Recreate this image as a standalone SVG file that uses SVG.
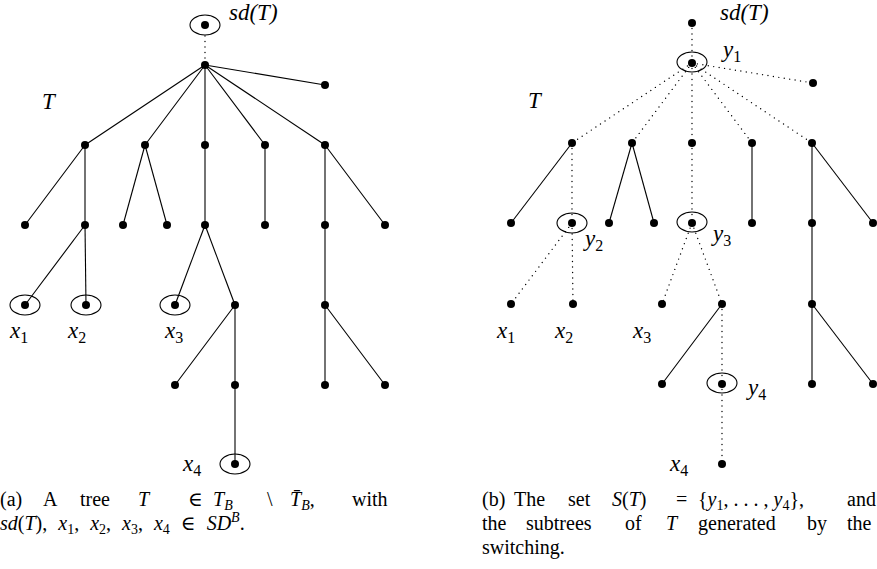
<svg xmlns="http://www.w3.org/2000/svg" width="877" height="569" viewBox="0 0 877 569">
<style>
.e{stroke:#000;stroke-width:1.1;fill:none}
.d{stroke:#000;stroke-width:1.4;fill:none;stroke-dasharray:0 5.5;stroke-linecap:round}
.n{fill:#000}
.o{fill:none;stroke:#000;stroke-width:1.1}
.m{font-family:"Liberation Serif","DejaVu Serif",serif;font-style:italic;font-size:23px;fill:#000}
.s{font-size:16px;font-style:normal}
.c{font-family:"Liberation Serif","DejaVu Serif",serif;font-size:20px;fill:#000}
.ci{font-style:italic}
.cs{font-size:14px}
</style>
<rect width="877" height="569" fill="#fff"/>
<g id="connectors">
<!-- left tree -->
<line class="d" x1="205" y1="36" x2="205" y2="65"/>
<line class="e" x1="205" y1="65" x2="325" y2="85"/>
<line class="e" x1="205" y1="65" x2="85" y2="145"/>
<line class="e" x1="205" y1="65" x2="145" y2="145"/>
<line class="e" x1="205" y1="65" x2="205" y2="145"/>
<line class="e" x1="205" y1="65" x2="265" y2="145"/>
<line class="e" x1="205" y1="65" x2="325" y2="145"/>
<line class="e" x1="85" y1="145" x2="25" y2="225"/>
<line class="e" x1="85" y1="145" x2="85" y2="225"/>
<line class="e" x1="145" y1="145" x2="123" y2="225"/>
<line class="e" x1="145" y1="145" x2="167" y2="225"/>
<line class="e" x1="205" y1="145" x2="205" y2="225"/>
<line class="e" x1="265" y1="145" x2="265" y2="225"/>
<line class="e" x1="325" y1="145" x2="325" y2="225"/>
<line class="e" x1="325" y1="145" x2="385" y2="225"/>
<line class="e" x1="85" y1="225" x2="25" y2="305"/>
<line class="e" x1="85" y1="225" x2="86" y2="305"/>
<line class="e" x1="205" y1="225" x2="175" y2="305"/>
<line class="e" x1="205" y1="225" x2="235" y2="305"/>
<line class="e" x1="325" y1="225" x2="325" y2="305"/>
<line class="e" x1="235" y1="305" x2="175" y2="385"/>
<line class="e" x1="235" y1="305" x2="235" y2="385"/>
<line class="e" x1="325" y1="305" x2="325" y2="385"/>
<line class="e" x1="325" y1="305" x2="385" y2="385"/>
<line class="e" x1="235" y1="385" x2="235" y2="464"/>
<!-- right tree -->
<line class="d" x1="692" y1="23" x2="692" y2="63"/>
<line class="d" x1="692" y1="63" x2="813" y2="83"/>
<line class="d" x1="692" y1="63" x2="572" y2="143"/>
<line class="d" x1="692" y1="63" x2="632" y2="143"/>
<line class="d" x1="692" y1="63" x2="692" y2="143"/>
<line class="d" x1="692" y1="63" x2="752" y2="143"/>
<line class="d" x1="692" y1="63" x2="812" y2="143"/>
<line class="e" x1="572" y1="143" x2="511" y2="223"/>
<line class="d" x1="572" y1="143" x2="572" y2="223"/>
<line class="e" x1="632" y1="143" x2="609" y2="223"/>
<line class="e" x1="632" y1="143" x2="654" y2="223"/>
<line class="d" x1="692" y1="143" x2="692" y2="223"/>
<line class="e" x1="752" y1="143" x2="752" y2="223"/>
<line class="e" x1="812" y1="143" x2="812" y2="223"/>
<line class="e" x1="812" y1="143" x2="873" y2="223"/>
<line class="d" x1="572" y1="223" x2="511" y2="304"/>
<line class="d" x1="572" y1="223" x2="573" y2="304"/>
<line class="d" x1="692" y1="223" x2="662" y2="304"/>
<line class="d" x1="692" y1="223" x2="722" y2="304"/>
<line class="e" x1="812" y1="223" x2="812" y2="304"/>
<line class="e" x1="722" y1="304" x2="662" y2="384"/>
<line class="d" x1="722" y1="304" x2="722" y2="384"/>
<line class="e" x1="812" y1="304" x2="812" y2="384"/>
<line class="e" x1="812" y1="304" x2="873" y2="384"/>
<line class="d" x1="722" y1="384" x2="722" y2="464"/>
</g>
<!-- left tree nodes -->
<g id="L-sd"><ellipse class="o" cx="205" cy="25" rx="15" ry="10"/><circle class="n" cx="205" cy="25" r="4"/><text class="m" x="229" y="20">sd(T)</text></g>
<g id="L-root"><circle class="n" cx="205" cy="65" r="4"/></g>
<g id="L-r"><circle class="n" cx="325" cy="85" r="4"/></g>
<g id="L-a1"><circle class="n" cx="85" cy="145" r="4"/></g>
<g id="L-a2"><circle class="n" cx="145" cy="145" r="4"/></g>
<g id="L-a3"><circle class="n" cx="205" cy="145" r="4"/></g>
<g id="L-a4"><circle class="n" cx="265" cy="145" r="4"/></g>
<g id="L-a5"><circle class="n" cx="325" cy="145" r="4"/></g>
<g id="L-b1"><circle class="n" cx="25" cy="225" r="4"/></g>
<g id="L-b2"><circle class="n" cx="85" cy="225" r="4"/></g>
<g id="L-b3"><circle class="n" cx="123" cy="225" r="4"/></g>
<g id="L-b4"><circle class="n" cx="167" cy="225" r="4"/></g>
<g id="L-b5"><circle class="n" cx="205" cy="225" r="4"/></g>
<g id="L-b6"><circle class="n" cx="265" cy="225" r="4"/></g>
<g id="L-b7"><circle class="n" cx="325" cy="225" r="4"/></g>
<g id="L-b8"><circle class="n" cx="385" cy="225" r="4"/></g>
<g id="L-x1"><ellipse class="o" cx="25" cy="305" rx="15" ry="10"/><circle class="n" cx="25" cy="305" r="4"/><text class="m" x="10" y="338">x<tspan class="s" dy="5">1</tspan></text></g>
<g id="L-x2"><ellipse class="o" cx="86" cy="305" rx="15" ry="10"/><circle class="n" cx="86" cy="305" r="4"/><text class="m" x="68" y="338">x<tspan class="s" dy="5">2</tspan></text></g>
<g id="L-x3"><ellipse class="o" cx="175" cy="305" rx="15" ry="10"/><circle class="n" cx="175" cy="305" r="4"/><text class="m" x="165" y="338">x<tspan class="s" dy="5">3</tspan></text></g>
<g id="L-c4"><circle class="n" cx="235" cy="305" r="4"/></g>
<g id="L-c5"><circle class="n" cx="325" cy="305" r="4"/></g>
<g id="L-d1"><circle class="n" cx="175" cy="385" r="4"/></g>
<g id="L-d2"><circle class="n" cx="235" cy="385" r="4"/></g>
<g id="L-d3"><circle class="n" cx="325" cy="385" r="4"/></g>
<g id="L-d4"><circle class="n" cx="385" cy="385" r="4"/></g>
<g id="L-x4"><ellipse class="o" cx="235" cy="464" rx="15" ry="10"/><circle class="n" cx="235" cy="464" r="4"/><text class="m" x="183" y="471">x<tspan class="s" dy="5">4</tspan></text></g>
<text class="m" x="42" y="109">T</text>
<!-- right tree nodes -->
<g id="R-sd"><circle class="n" cx="692" cy="23" r="4"/><text class="m" x="720" y="20">sd(T)</text></g>
<g id="R-y1"><ellipse class="o" cx="692" cy="62" rx="15" ry="10"/><circle class="n" cx="692" cy="63" r="4"/><text class="m" x="723" y="57">y<tspan class="s" dy="5">1</tspan></text></g>
<g id="R-r"><circle class="n" cx="813" cy="83" r="4"/></g>
<g id="R-a1"><circle class="n" cx="572" cy="143" r="4"/></g>
<g id="R-a2"><circle class="n" cx="632" cy="143" r="4"/></g>
<g id="R-a3"><circle class="n" cx="692" cy="143" r="4"/></g>
<g id="R-a4"><circle class="n" cx="752" cy="143" r="4"/></g>
<g id="R-a5"><circle class="n" cx="812" cy="143" r="4"/></g>
<g id="R-b1"><circle class="n" cx="511" cy="223" r="4"/></g>
<g id="R-y2"><ellipse class="o" cx="572" cy="223" rx="15" ry="10"/><circle class="n" cx="572" cy="223" r="4"/><text class="m" x="585" y="246">y<tspan class="s" dy="5">2</tspan></text></g>
<g id="R-b3"><circle class="n" cx="609" cy="223" r="4"/></g>
<g id="R-b4"><circle class="n" cx="654" cy="223" r="4"/></g>
<g id="R-y3"><ellipse class="o" cx="692" cy="222" rx="15" ry="10"/><circle class="n" cx="692" cy="223" r="4"/><text class="m" x="713" y="241">y<tspan class="s" dy="5">3</tspan></text></g>
<g id="R-b6"><circle class="n" cx="752" cy="223" r="4"/></g>
<g id="R-b7"><circle class="n" cx="812" cy="223" r="4"/></g>
<g id="R-b8"><circle class="n" cx="873" cy="223" r="4"/></g>
<g id="R-x1"><circle class="n" cx="511" cy="304" r="4"/><text class="m" x="497" y="338">x<tspan class="s" dy="5">1</tspan></text></g>
<g id="R-x2"><circle class="n" cx="573" cy="304" r="4"/><text class="m" x="555" y="338">x<tspan class="s" dy="5">2</tspan></text></g>
<g id="R-x3"><circle class="n" cx="662" cy="304" r="4"/><text class="m" x="633" y="338">x<tspan class="s" dy="5">3</tspan></text></g>
<g id="R-c4"><circle class="n" cx="722" cy="304" r="4"/></g>
<g id="R-c5"><circle class="n" cx="812" cy="304" r="4"/></g>
<g id="R-d1"><circle class="n" cx="662" cy="384" r="4"/></g>
<g id="R-y4"><ellipse class="o" cx="722" cy="383" rx="15" ry="10"/><circle class="n" cx="722" cy="384" r="4"/><text class="m" x="748" y="395">y<tspan class="s" dy="5">4</tspan></text></g>
<g id="R-d3"><circle class="n" cx="812" cy="384" r="4"/></g>
<g id="R-d4"><circle class="n" cx="873" cy="384" r="4"/></g>
<g id="R-x4"><circle class="n" cx="722" cy="464" r="4"/><text class="m" x="670" y="471">x<tspan class="s" dy="5">4</tspan></text></g>
<text class="m" x="528" y="108">T</text>
<!-- captions -->
<g id="caption-a" class="c">
<text x="0" y="506">(a)</text>
<text x="43" y="506">A</text>
<text x="80" y="506">tree</text>
<text x="138" y="506" class="ci">T</text>
<text x="188" y="506">∈</text>
<text x="213" y="506"><tspan class="ci">T</tspan><tspan class="ci cs" dy="4">B</tspan></text>
<text x="267" y="506">\</text>
<text x="290" y="506"><tspan class="ci">T̄</tspan><tspan class="ci cs" dy="4">B</tspan><tspan dy="-4">,</tspan></text>
<text x="352" y="506">with</text>
<text x="0" y="530" word-spacing="6"><tspan class="ci">sd</tspan>(<tspan class="ci">T</tspan>), <tspan class="ci">x</tspan><tspan class="cs" dy="4">1</tspan><tspan dy="-4">, </tspan><tspan class="ci">x</tspan><tspan class="cs" dy="4">2</tspan><tspan dy="-4">, </tspan><tspan class="ci">x</tspan><tspan class="cs" dy="4">3</tspan><tspan dy="-4">, </tspan><tspan class="ci">x</tspan><tspan class="cs" dy="4">4</tspan><tspan dy="-4"> ∈ </tspan><tspan class="ci">SD</tspan><tspan class="ci cs" dy="-8">B</tspan><tspan dy="8">.</tspan></text>
</g>
<g id="caption-b" class="c">
<text x="482" y="506">(b)</text>
<text x="514" y="506">The</text>
<text x="568" y="506">set</text>
<text x="612" y="506"><tspan class="ci">S</tspan>(<tspan class="ci">T</tspan>)</text>
<text x="676" y="506">=</text>
<text x="698" y="506">{<tspan class="ci">y</tspan><tspan class="cs" dy="4">1</tspan><tspan dy="-4">, . . . , </tspan><tspan class="ci">y</tspan><tspan class="cs" dy="4">4</tspan><tspan dy="-4">},</tspan></text>
<text x="847" y="506">and</text>
<text x="482" y="530">the</text>
<text x="526" y="530">subtrees</text>
<text x="625" y="530">of</text>
<text x="666" y="530" class="ci">T</text>
<text x="698" y="530">generated</text>
<text x="807" y="530">by</text>
<text x="847" y="530">the</text>
<text x="482" y="554">switching.</text>
</g>
</svg>
